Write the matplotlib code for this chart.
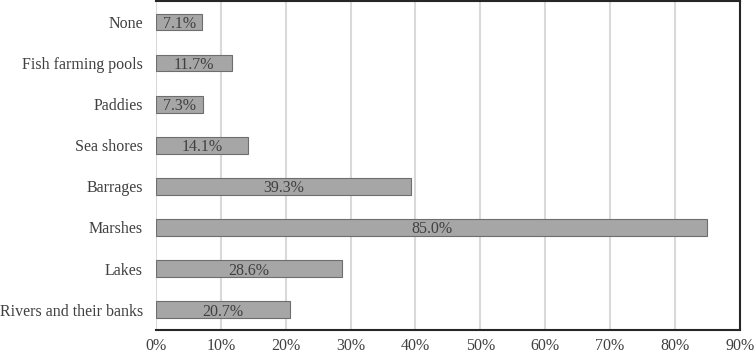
import matplotlib.pyplot as plt
from matplotlib.ticker import FuncFormatter

categories = ["Rivers and their banks", "Lakes", "Marshes", "Barrages",
              "Sea shores", "Paddies", "Fish farming pools", "None"]
values = [20.7, 28.6, 85.0, 39.3, 14.1, 7.3, 11.7, 7.1]

plt.rcParams['font.family'] = ['Liberation Serif', 'DejaVu Serif']

fig = plt.figure(figsize=(7.54, 3.55), dpi=100)
ax = fig.add_axes([0.207, 0.07, 0.774, 0.926])

ypos = range(len(categories))
ax.barh(ypos, values, height=0.41, color='#a6a6a6', edgecolor='#6e6e6e',
        linewidth=0.8, zorder=3)
for y, v in zip(ypos, values):
    ax.text(v / 2, y, "{:.1f}%".format(v), ha='center', va='center_baseline',
            fontsize=11.5, color='#404040', zorder=4)

ax.set_xlim(0, 90)
ax.set_ylim(-0.5, len(categories) - 0.5)
ax.set_xticks(range(0, 91, 10))
ax.xaxis.set_major_formatter(FuncFormatter(lambda x, p: "{:.0f}%".format(x)))
ax.set_yticks(list(ypos))
ax.set_yticklabels(categories)
ax.tick_params(axis='both', length=0, labelsize=11.5, labelcolor='#404040')
ax.tick_params(axis='x', pad=5.5)
ax.tick_params(axis='y', pad=9.5)
ax.grid(axis='x', color='#d9d9d9', linewidth=1.5, zorder=0)

for side in ['top', 'right', 'bottom']:
    ax.spines[side].set_color('#262626')
    ax.spines[side].set_linewidth(1.5)
ax.spines['left'].set_visible(False)

fig.savefig('out.png', dpi=100)
